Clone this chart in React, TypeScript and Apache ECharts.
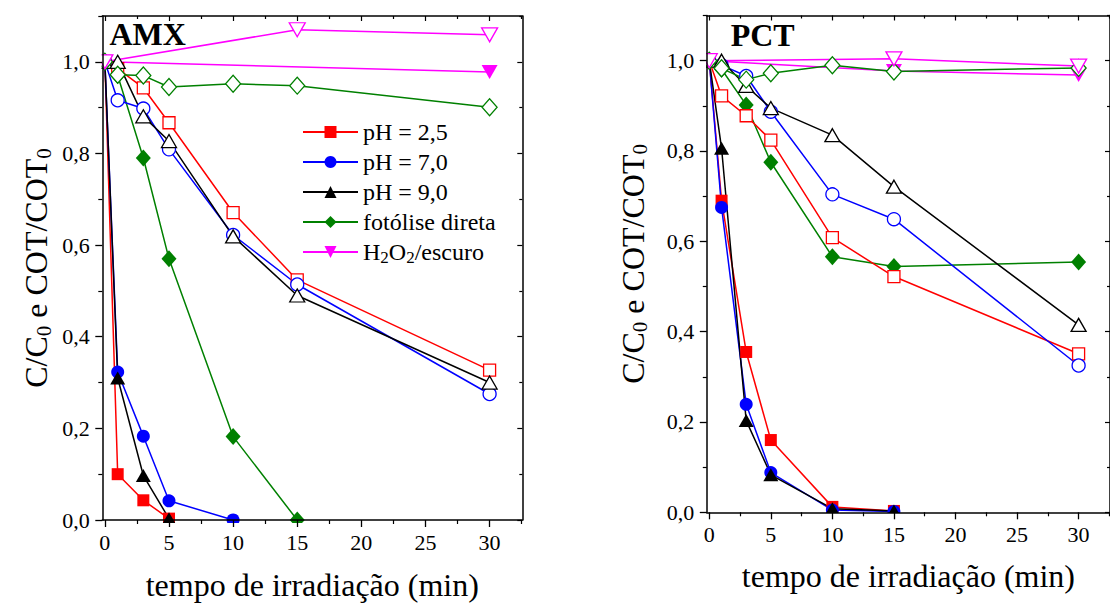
import React, { useEffect, useRef } from 'react';
import * as echarts from 'echarts';

const FONT = "'Liberation Serif', 'Times New Roman', Times, serif";

// ---- tick labels ----
const xMajor = [0, 5, 10, 15, 20, 25, 30];
const xMinor = [2.5, 7.5, 12.5, 17.5, 22.5, 27.5, 32.5];
const yMajor = [0, 0.2, 0.4, 0.6, 0.8, 1.0];
const yMinor = [0.1, 0.3, 0.5, 0.7, 0.9, 1.1];

const legendNames = ['pH = 2,5', 'pH = 7,0', 'pH = 9,0', 'fotólise direta', 'H2O2/escuro'];
const xTitle = 'tempo de irradiação (min)';

// ---- AMX: C/C0 (filled) ----
const amxC_pH25_t = [0, 1, 3, 5];
const amxC_pH25_v = [1.0, 0.10, 0.043, 0.003];
const amxC_pH70_t = [0, 1, 3, 5, 10];
const amxC_pH70_v = [1.0, 0.323, 0.183, 0.042, 0.0];
const amxC_pH90_t = [0, 1, 3, 5];
const amxC_pH90_v = [1.0, 0.31, 0.097, 0.003];
const amxC_fot_t = [0, 1, 3, 5, 10, 15];
const amxC_fot_v = [1.0, 0.97, 0.79, 0.57, 0.182, 0.0];
const amxC_h2o2_t = [0, 30];
const amxC_h2o2_v = [1.0, 0.978];

// ---- AMX: COT/COT0 (open) ----
const amxT_pH25_t = [0, 1, 3, 5, 10, 15, 30];
const amxT_pH25_v = [1.0, 0.985, 0.943, 0.867, 0.671, 0.524, 0.327];
const amxT_pH70_t = [0, 1, 3, 5, 10, 15, 30];
const amxT_pH70_v = [1.0, 0.916, 0.898, 0.809, 0.622, 0.514, 0.275];
const amxT_pH90_t = [0, 1, 3, 5, 10, 15, 30];
const amxT_pH90_v = [1.0, 1.0, 0.881, 0.827, 0.619, 0.49, 0.30];
const amxT_fot_t = [0, 1, 3, 5, 10, 15, 30];
const amxT_fot_v = [1.0, 0.972, 0.97, 0.945, 0.952, 0.948, 0.901];
const amxT_h2o2_t = [0, 15, 30];
const amxT_h2o2_v = [1.0, 1.07, 1.059];

// ---- PCT: C/C0 (filled) ----
const pctC_pH25_t = [0, 1, 3, 5, 10, 15];
const pctC_pH25_v = [1.0, 0.69, 0.355, 0.16, 0.012, 0.003];
const pctC_pH70_t = [0, 1, 3, 5, 10, 15];
const pctC_pH70_v = [1.0, 0.675, 0.239, 0.088, 0.005, 0.002];
const pctC_pH90_t = [0, 1, 3, 5, 10, 15];
const pctC_pH90_v = [1.0, 0.806, 0.203, 0.083, 0.008, 0.003];
const pctC_fot_t = [0, 1, 3, 5, 10, 15, 30];
const pctC_fot_v = [1.0, 0.981, 0.902, 0.775, 0.566, 0.544, 0.554];
const pctC_h2o2_t = [0, 15, 30];
const pctC_h2o2_v = [1.0, 0.977, 0.968];

// ---- PCT: COT/COT0 (open) ----
const pctT_pH25_t = [0, 1, 3, 5, 10, 15, 30];
const pctT_pH25_v = [1.0, 0.922, 0.878, 0.824, 0.608, 0.522, 0.351];
const pctT_pH70_t = [0, 1, 3, 5, 10, 15, 30];
const pctT_pH70_v = [1.0, 0.99, 0.966, 0.887, 0.704, 0.649, 0.325];
const pctT_pH90_t = [0, 1, 3, 5, 10, 15, 30];
const pctT_pH90_v = [1.0, 1.0, 0.944, 0.895, 0.835, 0.721, 0.415];
const pctT_fot_t = [0, 1, 3, 5, 10, 15, 30];
const pctT_fot_v = [1.0, 0.983, 0.958, 0.972, 0.99, 0.976, 0.984];
const pctT_h2o2_t = [0, 15, 30];
const pctT_h2o2_v = [1.0, 1.004, 0.988];

const RED = '#ff0000';
const BLUE = '#0000ff';
const BLACK = '#000000';
const GREEN = '#008000';
const MAGENTA = '#ff00ff';

const X_MIN = -0.2;
const X_MAX = 32.55;
const Y_MIN = 0;
const Y_MAX = 1.1;

const fmtY = (v: number) => v.toFixed(1).replace('.', ',');

type Sym = { symbol: string; size: number[]; rotate?: number };
const SQ: Sym = { symbol: 'rect', size: [12, 12] };
const CI: Sym = { symbol: 'circle', size: [13, 13] };
const TR: Sym = { symbol: 'triangle', size: [15, 13] };
const DI: Sym = { symbol: 'diamond', size: [15, 17] };
const TD: Sym = { symbol: 'triangle', size: [16, 14], rotate: 180 };

function mkSeries(
  name: string,
  t: number[],
  v: number[],
  color: string,
  sym: Sym,
  filled: boolean,
  axisIndex: number
) {
  return {
    type: 'line',
    name,
    xAxisIndex: axisIndex,
    yAxisIndex: axisIndex,
    data: t.map((x, i) => [x, v[i]]),
    symbol: sym.symbol,
    symbolSize: sym.size,
    symbolRotate: sym.rotate || 0,
    showSymbol: true,
    showAllSymbol: true,
    silent: true,
    z: filled ? 2 : 3,
    lineStyle: { color, width: 1.5 },
    itemStyle: filled
      ? { color, borderWidth: 0 }
      : { color: '#ffffff', borderColor: color, borderWidth: 1.3 },
    emphasis: { disabled: true },
  };
}

function xAxesFor(g: number, gap: number) {
  const common = {
    type: 'value',
    gridIndex: g,
    min: X_MIN,
    max: X_MAX,
    z: 10,
    splitLine: { show: false },
    minorTick: { show: false },
  };
  return [
    {
      ...common,
      position: 'bottom',
      axisLine: { show: true, onZero: false, lineStyle: { color: '#000', width: 1.5 } },
      axisTick: { show: true, inside: false, length: 7, customValues: xMajor, lineStyle: { color: '#000', width: 1.3 } },
      axisLabel: {
        show: true,
        customValues: xMajor,
        margin: 11.5,
        fontSize: 22,
        fontFamily: FONT,
        color: '#000',
        formatter: (v: number) => String(v),
      },
      name: xTitle,
      nameLocation: 'middle',
      nameGap: gap,
      nameTextStyle: { fontFamily: FONT, fontSize: 32, color: '#000' },
    },
    {
      ...common,
      position: 'bottom',
      axisLine: { show: false, onZero: false },
      axisTick: { show: true, inside: false, length: 4, customValues: xMinor, lineStyle: { color: '#000', width: 1.2 } },
      axisLabel: { show: false },
    },
    {
      ...common,
      position: 'top',
      axisLine: { show: true, onZero: false, lineStyle: { color: '#000', width: 1.5 } },
      axisTick: { show: true, inside: true, length: 5, customValues: xMajor, lineStyle: { color: '#000', width: 1.2 } },
      axisLabel: { show: false },
    },
    {
      ...common,
      position: 'top',
      axisLine: { show: false, onZero: false },
      axisTick: { show: true, inside: true, length: 3, customValues: xMinor, lineStyle: { color: '#000', width: 1.2 } },
      axisLabel: { show: false },
    },
  ];
}

function yAxesFor(g: number, gap: number) {
  const common = {
    type: 'value',
    gridIndex: g,
    min: Y_MIN,
    max: Y_MAX,
    z: 10,
    splitLine: { show: false },
    minorTick: { show: false },
  };
  return [
    {
      ...common,
      position: 'left',
      axisLine: { show: true, onZero: false, lineStyle: { color: '#000', width: 1.5 } },
      axisTick: { show: true, inside: false, length: 7, customValues: yMajor, lineStyle: { color: '#000', width: 1.3 } },
      axisLabel: {
        show: true,
        customValues: yMajor,
        margin: 12.5,
        fontSize: 22,
        fontFamily: FONT,
        color: '#000',
        formatter: fmtY,
      },
      name: '{n|C/C}{s|0}{n| e COT/COT}{s|0}',
      nameLocation: 'middle',
      nameRotate: 90,
      nameGap: gap,
      nameTextStyle: {
        fontFamily: FONT,
        fontSize: 32,
        color: '#000',
        rich: {
          n: { fontFamily: FONT, fontSize: 32, color: '#000', lineHeight: 36 },
          s: { fontFamily: FONT, fontSize: 21, color: '#000', lineHeight: 21, verticalAlign: 'bottom' },
        },
      },
    },
    {
      ...common,
      position: 'left',
      axisLine: { show: false, onZero: false },
      axisTick: { show: true, inside: false, length: 4, customValues: yMinor, lineStyle: { color: '#000', width: 1.2 } },
      axisLabel: { show: false },
    },
    {
      ...common,
      position: 'right',
      axisLine: { show: true, onZero: false, lineStyle: { color: '#000', width: 1.5 } },
      axisTick: { show: true, inside: true, length: 5, customValues: yMajor, lineStyle: { color: '#000', width: 1.2 } },
      axisLabel: { show: false },
    },
    {
      ...common,
      position: 'right',
      axisLine: { show: false, onZero: false },
      axisTick: { show: true, inside: true, length: 3, customValues: yMinor, lineStyle: { color: '#000', width: 1.2 } },
      axisLabel: { show: false },
    },
  ];
}

export default function App() {
  const ref = useRef<HTMLDivElement>(null);

  useEffect(() => {
    if (!ref.current) return;
    const chart = echarts.init(ref.current, undefined, { renderer: 'svg' });

    const G0 = { left: 102.3, top: 16, width: 420, height: 506.3 };
    const G1 = { left: 706.8, top: 15.5, width: 415.6, height: 496.8 };

    const series = [
      // AMX filled
      mkSeries(legendNames[0], amxC_pH25_t, amxC_pH25_v, RED, SQ, true, 0),
      mkSeries(legendNames[1], amxC_pH70_t, amxC_pH70_v, BLUE, CI, true, 0),
      mkSeries(legendNames[2], amxC_pH90_t, amxC_pH90_v, BLACK, TR, true, 0),
      mkSeries(legendNames[3], amxC_fot_t, amxC_fot_v, GREEN, DI, true, 0),
      mkSeries(legendNames[4], amxC_h2o2_t, amxC_h2o2_v, MAGENTA, TD, true, 0),
      // AMX open
      mkSeries('COT pH = 2,5 A', amxT_pH25_t, amxT_pH25_v, RED, SQ, false, 0),
      mkSeries('COT pH = 7,0 A', amxT_pH70_t, amxT_pH70_v, BLUE, CI, false, 0),
      mkSeries('COT pH = 9,0 A', amxT_pH90_t, amxT_pH90_v, BLACK, TR, false, 0),
      mkSeries('COT fotólise A', amxT_fot_t, amxT_fot_v, GREEN, DI, false, 0),
      mkSeries('COT H2O2 A', amxT_h2o2_t, amxT_h2o2_v, MAGENTA, TD, false, 0),
      // PCT filled
      mkSeries(legendNames[0], pctC_pH25_t, pctC_pH25_v, RED, SQ, true, 4),
      mkSeries(legendNames[1], pctC_pH70_t, pctC_pH70_v, BLUE, CI, true, 4),
      mkSeries(legendNames[2], pctC_pH90_t, pctC_pH90_v, BLACK, TR, true, 4),
      mkSeries(legendNames[3], pctC_fot_t, pctC_fot_v, GREEN, DI, true, 4),
      mkSeries(legendNames[4], pctC_h2o2_t, pctC_h2o2_v, MAGENTA, TD, true, 4),
      // PCT open
      mkSeries('COT pH = 2,5 P', pctT_pH25_t, pctT_pH25_v, RED, SQ, false, 4),
      mkSeries('COT pH = 7,0 P', pctT_pH70_t, pctT_pH70_v, BLUE, CI, false, 4),
      mkSeries('COT pH = 9,0 P', pctT_pH90_t, pctT_pH90_v, BLACK, TR, false, 4),
      mkSeries('COT fotólise P', pctT_fot_t, pctT_fot_v, GREEN, DI, false, 4),
      mkSeries('COT H2O2 P', pctT_h2o2_t, pctT_h2o2_v, MAGENTA, TD, false, 4),
    ];

    const clipRects = [
      // left panel
      { type: 'rect', z: 5, silent: true, shape: { x: 60, y: 523, width: 480, height: 30 }, style: { fill: '#fff' } },
      { type: 'rect', z: 5, silent: true, shape: { x: 55, y: 0, width: 46.5, height: 540 }, style: { fill: '#fff' } },
      // right panel
      { type: 'rect', z: 5, silent: true, shape: { x: 660, y: 513, width: 460, height: 30 }, style: { fill: '#fff' } },
      { type: 'rect', z: 5, silent: true, shape: { x: 660, y: 0, width: 46, height: 530 }, style: { fill: '#fff' } },
    ];

    chart.setOption({
      animation: false,
      backgroundColor: '#ffffff',
      textStyle: { fontFamily: FONT },
      grid: [
        { ...G0, containLabel: false },
        { ...G1, containLabel: false },
      ],
      xAxis: [...xAxesFor(0, 49), ...xAxesFor(1, 48)],
      yAxis: [...yAxesFor(0, 48), ...yAxesFor(1, 56)],
      legend: {
        show: true,
        data: legendNames,
        orient: 'vertical',
        left: 302,
        top: 118,
        padding: 0,
        itemWidth: 55,
        itemHeight: 15,
        itemGap: 2,
        selectedMode: false,
        z: 8,
        formatter: (name: string) =>
          name === 'H2O2/escuro' ? '{n|H}{s|2}{n|O}{s|2}{n|/escuro}' : name,
        textStyle: {
          fontFamily: FONT,
          fontSize: 24,
          color: '#000',
          lineHeight: 28,
          rich: {
            n: { fontFamily: FONT, fontSize: 24, color: '#000', lineHeight: 28 },
            s: { fontFamily: FONT, fontSize: 17, color: '#000', lineHeight: 12, verticalAlign: 'bottom' },
          },
        },
      },
      graphic: [
        ...clipRects,
        {
          type: 'text',
          z: 12,
          silent: true,
          x: 109.5,
          y: 34.2,
          style: { text: 'AMX', font: `bold 32px ${FONT}`, fill: '#000', textAlign: 'left', textVerticalAlign: 'middle' },
        },
        {
          type: 'text',
          z: 12,
          silent: true,
          x: 730.7,
          y: 34.7,
          style: { text: 'PCT', font: `bold 32px ${FONT}`, fill: '#000', textAlign: 'left', textVerticalAlign: 'middle' },
        },
      ],
      series,
    });

    return () => {
      chart.dispose();
    };
  }, []);

  return (
    <div
      ref={ref}
      style={{ position: 'absolute', left: 0, top: 0, width: 1110, height: 606, background: '#fff' }}
    />
  );
}
